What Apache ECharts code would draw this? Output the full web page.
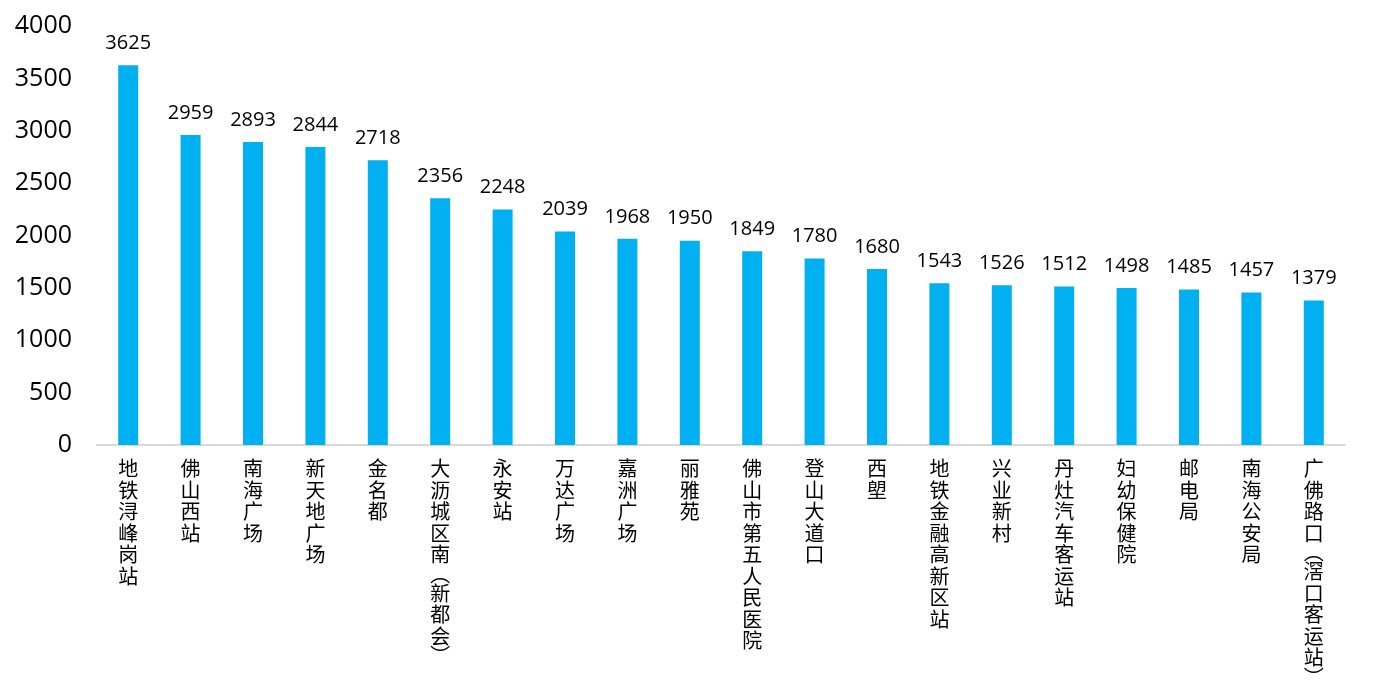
<!DOCTYPE html>
<html>
<head>
<meta charset="utf-8">
<script src="https://cdn.jsdelivr.net/npm/echarts@6/dist/echarts.min.js"></script>
<style>
  html, body { margin: 0; padding: 0; background: #fff; }
  #chart { width: 1378px; height: 686px; }
</style>
</head>
<body>
<div id="chart"></div>
<script>
var stations = ['地铁浔峰岗站', '佛山西站', '南海广场', '新天地广场', '金名都', '大沥城区南(新都会)',
  '永安站', '万达广场', '嘉洲广场', '丽雅苑', '佛山市第五人民医院', '登山大道口', '西塱',
  '地铁金融高新区站', '兴业新村', '丹灶汽车客运站', '妇幼保健院', '邮电局', '南海公安局', '广佛路口(滘口客运站)']
var counts = [3625, 2959, 2893, 2844, 2718, 2356, 2248, 2039, 1968, 1950, 1849, 1780, 1680,
  1543, 1526, 1512, 1498, 1485, 1457, 1379]

var myChart = echarts.init(document.getElementById('chart'))
var option = {
  animation: false,
  grid: { left: 97, right: 33, top: 26, bottom: 241, containLabel: false, outerBoundsMode: 'none' },
  xAxis: {
    type: 'category',
    data: stations,
    axisLine: { lineStyle: { color: '#d9d9d9', width: 2 } },
    axisTick: { show: false },
    axisLabel: {
      interval: 0,
      margin: 13,
      color: '#000',
      fontSize: 20,
      lineHeight: 21.5,
      fontFamily: 'Noto Sans CJK SC',
      verticalAlign: 'top',
      formatter: function(v) {
        // 竖排：括号用竖排形式，单独一行
        return v.split('').map(function(c) {
          if (c == '(') return '{p|︵}'
          if (c == ')') return '{p|︶}'
          return c
        }).join('\n')
      },
      rich: {
        p: { fontSize: 20, lineHeight: 17, color: '#000', fontFamily: 'Noto Sans CJK SC' }
      }
    }
  },
  yAxis: {
    type: 'value',
    min: 0,
    max: 4000,
    interval: 500,
    axisLine: { show: false },
    axisTick: { show: false },
    splitLine: { show: false },
    axisLabel: {
      color: '#000', fontSize: 25, margin: 25, fontFamily: 'Open Sans',
      formatter: function(v) { return String(v) }
    }
  },
  series: [{
    type: 'bar',
    data: counts,
    barWidth: 20,
    itemStyle: { color: '#00b0f0' },
    label: {
      show: true,
      position: 'top',
      distance: 12,
      color: '#000',
      fontSize: 20,
      fontFamily: 'Open Sans'
    }
  }]
}
myChart.setOption(option)
</script>
</body>
</html>
